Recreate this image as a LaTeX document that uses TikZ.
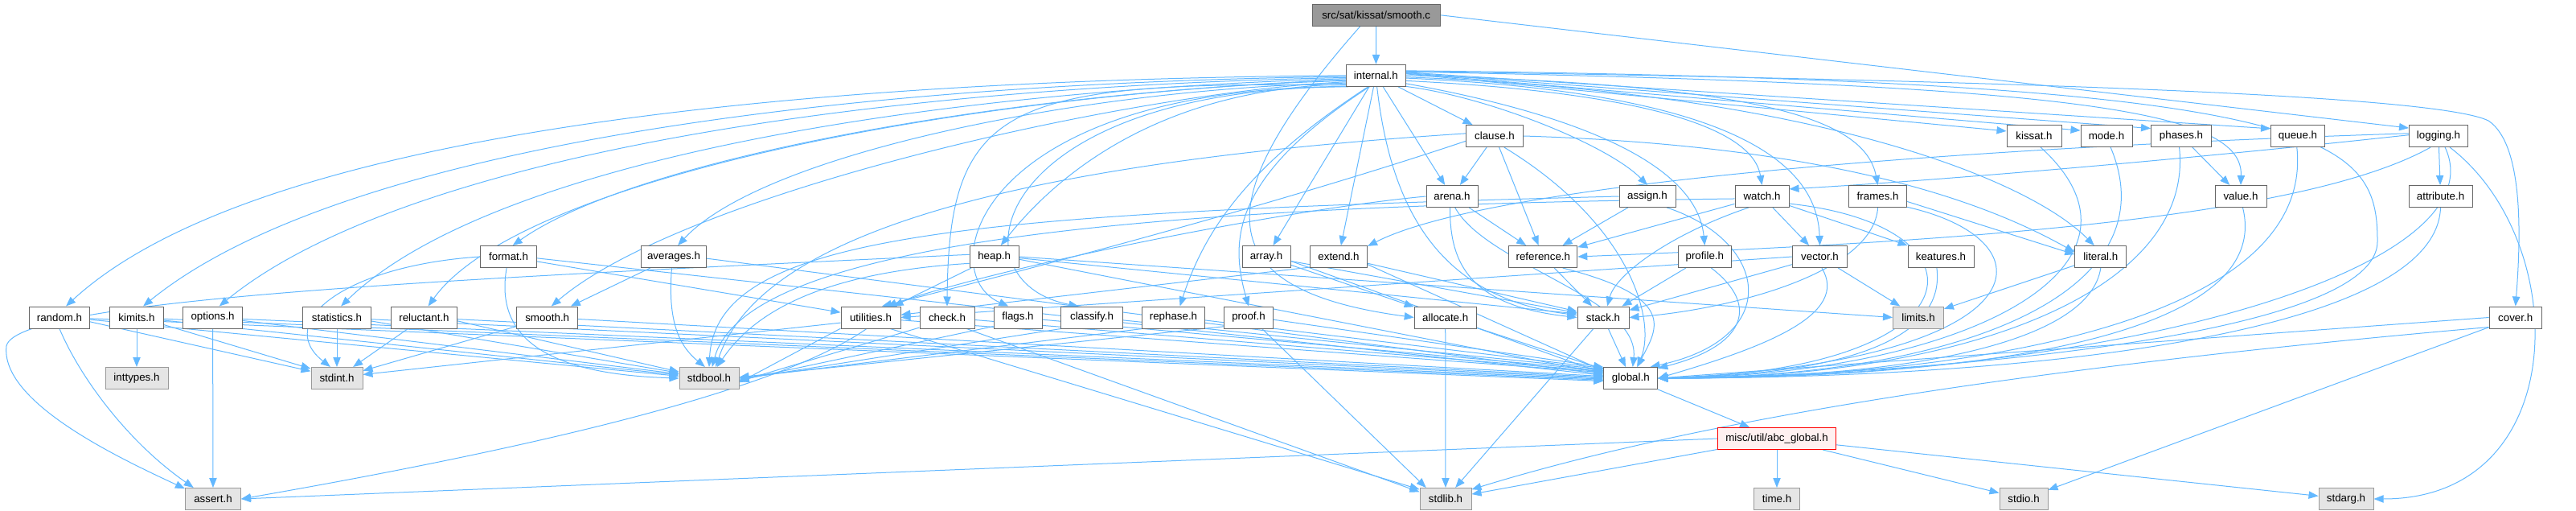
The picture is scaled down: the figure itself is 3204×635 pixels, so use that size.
\documentclass[tikz,border=0pt]{standalone}
\usepackage{fontspec}
\setmainfont{Liberation Sans}
\usetikzlibrary{arrows.meta,backgrounds}
\definecolor{edgec}{HTML}{63B8FF}
\definecolor{bord}{HTML}{666666}
\definecolor{sysbord}{HTML}{999999}
\definecolor{sysfill}{HTML}{E5E5E5}
\definecolor{rootfill}{HTML}{999999}
\definecolor{redfill}{HTML}{FFF0F0}
\begin{document}
\begin{tikzpicture}[x=0.75pt,y=0.75pt,
  box/.style={draw=bord,fill=white,line width=0.75pt,minimum height=20.25pt,inner sep=0pt,
    font=\fontsize{10}{12}\selectfont,minimum width=#1pt},
  sys/.style={box=#1,draw=sysbord,fill=sysfill},
  rootn/.style={box=#1,fill=rootfill},
  redn/.style={box=#1,draw=red,fill=redfill},
  e/.style={draw=edgec,line width=0.75pt,-{Triangle[length=9pt,width=7pt]}}]
\useasboundingbox (0,0) rectangle (3204,-635);
% row 1-2
\node[rootn=119.25] (smoothc) at (1711.7,-18.8) {src/sat/kissat/smooth.c};
\node[box=55.5] (internal) at (1711.4,-93.8) {internal.h};
% row 3
\node[box=53.25] (clause) at (1859,-169) {clause.h};
\node[box=51] (kissat) at (2530,-169) {kissat.h};
\node[box=48] (mode) at (2620,-169) {mode.h};
\node[box=56.25] (phases) at (2713,-169) {phases.h};
\node[box=50.25] (queue) at (2858,-169) {queue.h};
\node[box=54.75] (logging) at (3033,-169) {logging.h};
% row 4
\node[box=48] (arena) at (1806,-244) {arena.h};
\node[box=52.5] (assign) at (2049,-244) {assign.h};
\node[box=50.25] (watch) at (2191.5,-244) {watch.h};
\node[box=54] (frames) at (2335.6,-244) {frames.h};
\node[box=48] (value) at (2787,-244) {value.h};
\node[box=59.25] (attribute) at (3035.5,-244) {attribute.h};
% row 5
\node[box=52.5] (format) at (632.6,-319) {format.h};
\node[box=60.75] (averages) at (838,-319) {averages.h};
\node[box=45.75] (heap) at (1236.7,-319) {heap.h};
\node[box=45] (array) at (1575,-319) {array.h};
\node[box=53.25] (extend) at (1665,-319) {extend.h};
\node[box=63.75] (reference) at (1919.3,-319) {reference.h};
\node[box=49.5] (profile) at (2120.3,-319) {profile.h};
\node[box=51] (vector) at (2263.5,-319) {vector.h};
\node[box=61.5] (keatures) at (2414,-319) {keatures.h};
\node[box=48] (literal) at (2612.8,-319) {literal.h};
% row 6
\node[box=56.25] (random) at (74,-394.5) {random.h};
\node[box=50.25] (kimits) at (170,-394.5) {kimits.h};
\node[box=55.5] (options) at (264.6,-394.5) {options.h};
\node[box=63.75] (statistics) at (419,-394.5) {statistics.h};
\node[box=61.5] (reluctant) at (527.5,-394.5) {reluctant.h};
\node[box=57] (smoothh) at (680.7,-394.5) {smooth.h};
\node[box=55.5] (utilities) at (1083,-394.5) {utilities.h};
\node[box=51] (check) at (1178,-394.5) {check.h};
\node[box=45] (flags) at (1266,-394.5) {flags.h};
\node[box=57.75] (classify) at (1358,-394.5) {classify.h};
\node[box=58.5] (rephase) at (1459.5,-394.5) {rephase.h};
\node[box=45.75] (proof) at (1553,-394.5) {proof.h};
\node[box=57.75] (allocate) at (1797.7,-394.5) {allocate.h};
\node[box=48] (stack) at (1994,-394.5) {stack.h};
\node[sys=47.25] (limits) at (2386,-394.5) {limits.h};
\node[box=48.75] (cover) at (3128.7,-394.5) {cover.h};
% row 7
\node[sys=58.5] (inttypes) at (170,-470) {inttypes.h};
\node[sys=48] (stdint) at (419,-470) {stdint.h};
\node[sys=55.5] (stdbool) at (882,-470) {stdbool.h};
\node[box=50.25] (global) at (2028.3,-470) {global.h};
% row 8-9
\node[redn=110.25] (abc) at (2210,-545) {misc/util/abc\_global.h};
\node[sys=51.75] (assert) at (265,-620) {assert.h};
\node[sys=48] (stdlib) at (1798,-620) {stdlib.h};
\node[sys=42.75] (time) at (2210,-620) {time.h};
\node[sys=45] (stdio) at (2517,-620) {stdio.h};
\node[sys=51] (stdarg) at (2918,-620) {stdarg.h};

\begin{pgfonlayer}{background}
% smooth.c
\draw[e] (smoothc) -- (internal);
\draw[e] (smoothc.east) -- (logging.165);
\draw[e] (smoothc.215) .. controls (1500,-250) and (1500,-360) .. (allocate.west);
% internal fan left
\draw[e] (internal.west) .. controls (900,-100) and (300,-180) .. (random.60);
\draw[e] (internal.182) .. controls (950,-105) and (400,-200) .. (kimits.60);
\draw[e] (internal.184) .. controls (1000,-110) and (480,-210) .. (options.60);
\draw[e] (internal.186) .. controls (1100,-115) and (600,-210) .. (statistics.70);
\draw[e] (internal.188) .. controls (1150,-120) and (640,-230) .. (reluctant.70);
\draw[e] (internal.190) .. controls (1300,-110) and (800,-190) .. (format.70);
\draw[e] (internal.192) .. controls (1400,-115) and (850,-240) .. (smoothh.70);
\draw[e] (internal.194) .. controls (1350,-110) and (950,-190) .. (averages.70);
\draw[e] (internal.196) .. controls (1450,-110) and (1320,-210) .. (heap.60);
\draw[e] (internal.198) .. controls (1250,-100) and (1180,-130) .. (check.north);
\draw[e] (internal.200) .. controls (1210,-110) and (1160,-340) .. (flags.130);
\draw[e] (internal.202) .. controls (1230,-110) and (1180,-350) .. (classify.140);
% internal down
\draw[e] (internal.235) .. controls (1560,-200) and (1500,-280) .. (rephase.60);
\draw[e] (internal.240) .. controls (1530,-220) and (1530,-300) .. (proof.north);
\draw[e] (internal) -- (array);
\draw[e] (internal) -- (extend);
\draw[e] (internal) -- (arena);
\draw[e] (internal) -- (clause);
\draw[e] (internal.275) .. controls (1730,-260) and (1790,-370) .. (stack.175);
% internal fan right
\draw[e] (internal.340) .. controls (1850,-120) and (2000,-180) .. (assign.north);
\draw[e] (internal.345) .. controls (1950,-140) and (2110,-200) .. (profile.north);
\draw[e] (internal.350) .. controls (2050,-115) and (2180,-160) .. (watch.north);
\draw[e] (internal.355) .. controls (2150,-115) and (2260,-200) .. (vector.north);
\draw[e] (internal.east) .. controls (2200,-105) and (2320,-150) .. (frames.north);
\draw[e] (internal.357) .. controls (2250,-115) and (2520,-220) .. (literal.120);
\draw[e] (internal.3) -- (kissat.170);
\draw[e] (internal.4) -- (mode.168);
\draw[e] (internal.5) -- (phases.166);
\draw[e] (internal.6) -- (queue.165);
\draw[e] (internal.7) .. controls (2600,-105) and (2790,-140) .. (value.north);
\draw[e] (internal.8) .. controls (2500,-100) and (3030,-118) .. (3095,-150) .. controls (3140,-180) and (3135,-300) .. (cover.north);
\draw[e] (internal.9) .. controls (2900,-100) and (2957,-170) .. (2957,-300) .. controls (2957,-430) and (2300,-468) .. (global.east);
% clause
\draw[e] (clause) -- (arena);
\draw[e] (clause) -- (reference);
\draw[e] (clause.east) .. controls (2250,-180) and (2450,-240) .. (literal.170);
\draw[e] (clause.190) .. controls (1600,-250) and (1300,-330) .. (utilities.45);
\draw[e] (clause.175) .. controls (1300,-200) and (950,-280) .. (stdbool.60);
\draw[e] (clause.-50) .. controls (2030,-280) and (2060,-400) .. (global.60);
% arena
\draw[e] (arena) -- (reference);
\draw[e] (arena.260) .. controls (1803,-330) and (1830,-380) .. (stack.west);
\draw[e] (arena.-75) .. controls (1850,-330) and (2040,-370) .. (global.80);
\draw[e] (arena.west) .. controls (1600,-260) and (1250,-330) .. (utilities.35);
% assign
\draw[e] (assign) -- (reference);
\draw[e] (assign.west) .. controls (1200,-265) and (890,-290) .. (stdbool.north);
\draw[e] (assign.-30) .. controls (2200,-300) and (2220,-420) .. (global.30);
% watch
\draw[e] (watch) -- (reference);
\draw[e] (watch.220) .. controls (2080,-290) and (2010,-340) .. (stack.70);
\draw[e] (watch) -- (vector);
\draw[e] (watch) -- (keatures);
\draw[e] (watch.-15) .. controls (2480,-280) and (2470,-460) .. (global.east);
\draw[e] (watch.185) .. controls (1500,-255) and (930,-290) .. (stdbool.75);
% frames
\draw[e] (frames.-10) -- (literal.175);
\draw[e] (frames.south) .. controls (2330,-340) and (2150,-385) .. (stack.east);
\draw[e] (frames.-20) .. controls (2560,-300) and (2540,-450) .. (global.east);
% right side into global
\draw[e] (kissat.-60) .. controls (2700,-330) and (2450,-465) .. (global.east);
\draw[e] (mode.-70) .. controls (2700,-360) and (2450,-468) .. (global.east);
\draw[e] (phases.-100) .. controls (2730,-360) and (2450,-470) .. (global.east);
\draw[e] (phases) -- (value);
\draw[e] (queue.-95) .. controls (2880,-400) and (2450,-470) .. (global.east);
\draw[e] (value.-80) .. controls (2830,-420) and (2450,-470) .. (global.east);
\draw[e] (attribute.south) .. controls (3030,-420) and (2500,-470) .. (global.east);
\draw[e] (logging) -- (attribute);
\draw[e] (logging.-60) .. controls (3110,-330) and (2650,-470) .. (global.east);
\draw[e] (logging.-45) .. controls (3200,-300) and (3200,-620) .. (stdarg.east);
\draw[e] (logging.175) .. controls (2400,-185) and (1850,-230) .. (extend.20);
\draw[e] (logging.178) .. controls (2700,-200) and (2400,-225) .. (watch.15);
\draw[e] (logging.-125) .. controls (2850,-280) and (2350,-303) .. (reference.east);
\draw[e] (cover.west) -- (global.east);
\draw[e] (cover) -- (stdio);
\draw[e] (cover.200) .. controls (2600,-450) and (2150,-510) .. (stdlib.20);
\draw[e] (literal.south) .. controls (2600,-420) and (2400,-470) .. (global.east);
\draw[e] (literal) -- (limits);
\draw[e] (keatures.-110) .. controls (2420,-420) and (2300,-465) .. (global.east);
\draw[e] (vector) -- (stack);
\draw[e] (vector) -- (limits);
\draw[e] (vector.-80) .. controls (2300,-390) and (2200,-430) .. (global.east);
\draw[e] (vector.west) -- (utilities.east);
\draw[e] (profile) -- (stack);
\draw[e] (profile.-60) .. controls (2190,-380) and (2170,-430) .. (global.20);
\draw[e] (reference) -- (stack);
\draw[e] (reference.-30) .. controls (2090,-370) and (2060,-410) .. (global.60);
\draw[e] (stack) -- (global);
\draw[e] (stack) -- (stdlib);
\draw[e] (allocate) -- (global);
\draw[e] (allocate) -- (stdlib);
\draw[e] (global) -- (abc);
\draw[e] (abc) -- (time);
\draw[e] (abc) -- (stdlib);
\draw[e] (abc) -- (stdio);
\draw[e] (abc) -- (stdarg);
\draw[e] (abc.west) -- (assert.east);
% array, extend
\draw[e] (array) -- (allocate);
\draw[e] (array) -- (stack);
\draw[e] (array.-10) -- (global.170);
\draw[e] (extend) -- (stack);
\draw[e] (extend.-15) -- (global.165);
\draw[e] (extend.200) -- (utilities.5);
% left nodes
\draw[e] (random.south) .. controls (100,-470) and (160,-550) .. (assert.150);
\draw[e] (random.-8) -- (stdint.165);
\draw[e] (random.-4) -- (stdbool.176);
\draw[e] (random.-2) -- (global.186);
\draw[e] (kimits) -- (inttypes);
\draw[e] (kimits.-15) -- (stdint.160);
\draw[e] (kimits.-6) -- (stdbool.174);
\draw[e] (kimits.-3) -- (global.184);
\draw[e] (options) -- (assert);
\draw[e] (options.-6) -- (stdbool.172);
\draw[e] (options.-3) -- (global.182);
\draw[e] (statistics) -- (stdint);
\draw[e] (statistics.-6) -- (stdbool.170);
\draw[e] (statistics.-3) -- (global.180);
\draw[e] (reluctant) -- (stdint);
\draw[e] (reluctant.-6) -- (stdbool.168);
\draw[e] (reluctant.-3) -- (global.178);
\draw[e] (smoothh) -- (stdint);
\draw[e] (smoothh.-3) -- (global.176);
\draw[e] (format.west) .. controls (430,-330) and (340,-400) .. (stdint.120);
\draw[e] (format.260) .. controls (615,-420) and (680,-465) .. (stdbool.west);
\draw[e] (format) -- (utilities);
\draw[e] (format.-3) -- (global.174);
\draw[e] (averages) -- (smoothh);
\draw[e] (averages.-100) .. controls (830,-400) and (845,-430) .. (stdbool.110);
\draw[e] (averages.-3) -- (global.172);
\draw[e] (heap) -- (utilities);
\draw[e] (heap.195) .. controls (1000,-340) and (930,-400) .. (stdbool.55);
\draw[e] (heap.175) .. controls (600,-345) and (20,-370) .. (8,-430) .. controls (0,-500) and (150,-570) .. (assert.160);
\draw[e] (heap.-3) -- (stack.172);
\draw[e] (heap.east) -- (limits.west);
\draw[e] (heap.-6) -- (global.170);
\draw[e] (utilities.190) -- (stdint.8);
\draw[e] (utilities.200) -- (stdbool.-8);
\draw[e] (utilities.250) .. controls (990,-470) and (760,-540) .. (assert.east);
\draw[e] (utilities.-30) -- (stdlib.160);
\draw[e] (utilities.-5) -- (global.168);
\draw[e] (check.200) -- (stdbool.-6);
\draw[e] (check.-30) -- (stdlib.165);
\draw[e] (check.-5) -- (global.166);
\draw[e] (flags.200) -- (stdbool.-4);
\draw[e] (flags.-5) -- (global.164);
\draw[e] (classify.200) -- (stdbool.-2);
\draw[e] (classify.-5) -- (global.162);
\draw[e] (rephase.200) -- (stdbool.east);
\draw[e] (rephase.-5) -- (global.160);
\draw[e] (proof.200) -- (stdbool.2);
\draw[e] (proof.-40) -- (stdlib.150);
\draw[e] (proof.-5) -- (global.158);
\end{pgfonlayer}
\end{tikzpicture}
\end{document}
